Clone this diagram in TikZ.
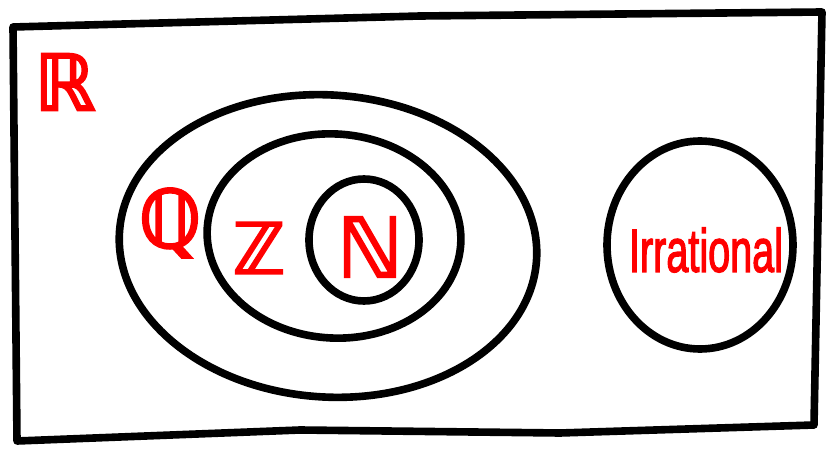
\documentclass[tikz,border=0pt]{standalone}
\usepackage{fontspec}
\setsansfont{Liberation Sans}[FakeBold=2.5]
\newfontfamily\dsfont{DejaVu Sans}[FakeBold=3]
\begin{document}
\begin{tikzpicture}[x=0.03cm,y=-0.03cm,
  setline/.style={draw=black,line width=6.5pt,line join=round,line cap=round},
  setlabel/.style={text=red,inner sep=0pt}]
\useasboundingbox (0,0) rectangle (829,453);
% universe R
\draw[setline] (13,27) -- (420,16) -- (822,12) -- (814,425) -- (560,433) -- (300,430) -- (17,441) -- cycle;
% sets
\draw[setline,rotate around={-4:(328,246)}] (328,246) ellipse [x radius=209, y radius=151];
\draw[setline,rotate around={-4:(334,236)}] (334,236) ellipse [x radius=127, y radius=102];
\draw[setline] (364,240) ellipse [x radius=55, y radius=61];
\draw[setline] (700,245) ellipse [x radius=93, y radius=104];
% labels
\node[setlabel] (R) at (65,82) {\dsfont\fontsize{66}{66}\selectfont ℝ};
\node[setlabel] (Q) at (170,223) {\dsfont\fontsize{68}{68}\selectfont ℚ};
\node[setlabel] (Z) at (259,248) {\dsfont\fontsize{60}{60}\selectfont ℤ};
\node[setlabel] (N) at (370,247) {\dsfont\fontsize{70}{70}\selectfont ℕ};
\node[setlabel] (I) at (706,250) {\scalebox{0.65}[1]{\sffamily\fontsize{52}{52}\selectfont Irrational}};
\end{tikzpicture}
\end{document}
